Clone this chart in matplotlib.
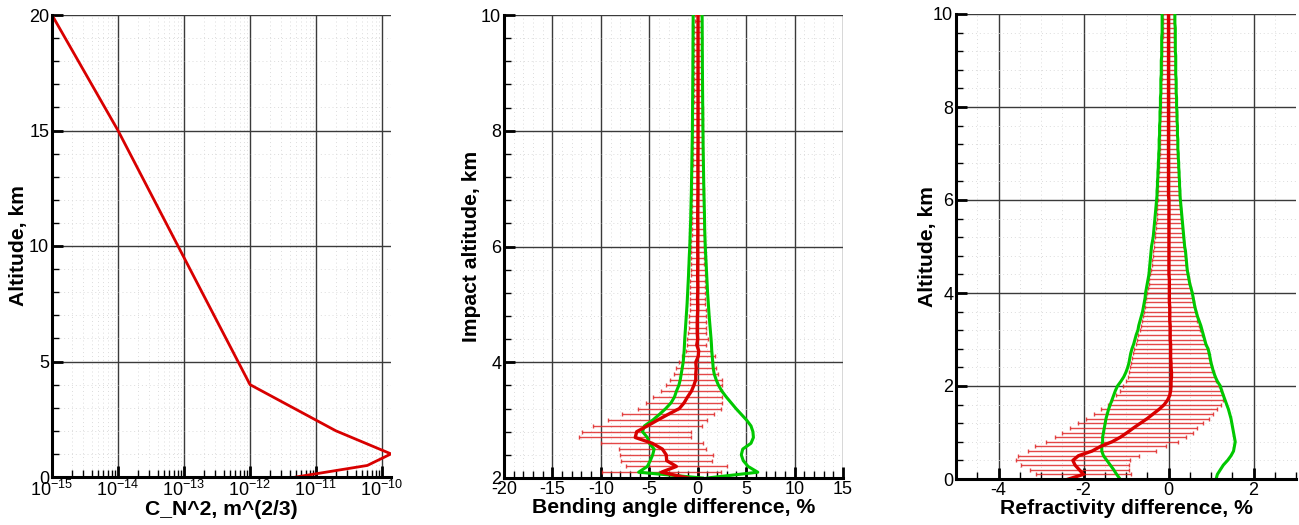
import matplotlib
matplotlib.use("Agg")
import matplotlib.pyplot as plt
from matplotlib.ticker import MultipleLocator, LogLocator, NullFormatter
import numpy as np

plt.rcParams['font.family'] = 'Liberation Sans'
plt.rcParams['mathtext.fontset'] = 'custom'
plt.rcParams['mathtext.rm'] = 'Liberation Sans'
plt.rcParams['mathtext.it'] = 'Liberation Sans:italic'
plt.rcParams['mathtext.bf'] = 'Liberation Sans:bold'
plt.rcParams['axes.unicode_minus'] = False

# ---- panel 1: Cn2 profile
cn2_vals = [1e-15, 1e-14, 1e-12, 2e-11, 1.37e-10, 6e-11, 5e-12]
cn2_alt = [20, 15, 4, 2, 1, 0.5, 0]

# ---- panel 2: bending angle difference (every 0.1 km, 2..10 km)
ba_alt = np.round(np.arange(2.0, 10.01, 0.1), 1)
ba_mean = [-1.0, -3.75, -2.2, -3.2, -3.25, -3.65, -4.7, -6.45, -6.3, -5.2,
           -4.15, -3.05, -1.9, -1.4, -1.05, -0.65, -0.4, -0.2, -0.2, -0.15,
           -0.2, 0.05, 0.1, -0.1, 0.0, -0.05, -0.05, -0.05, -0.03, 0.0,
           0.0, -0.02, 0.0, 0.01, 0.0, -0.01, 0.0, 0.0, 0.01, 0.0,
           0.0, 0.0, 0.01, 0.01, 0.0, 0.0, 0.0, 0.01, 0.01, 0.02,
           0.02, 0.02, 0.02, 0.02, 0.02, 0.02, 0.02, 0.03, 0.03, 0.03,
           0.03, 0.03, 0.03, 0.03, 0.03, 0.03, 0.03, 0.03, 0.03, 0.03,
           0.03, 0.03, 0.03, 0.03, 0.03, 0.03, 0.03, 0.03, 0.03, 0.03, 0.03]
ba_std = [6.0, 6.15, 5.2, 4.7, 4.8, 4.5, 5.25, 5.8, 5.65, 5.6,
          5.1, 4.75, 4.3, 3.9, 3.55, 3.15, 2.9, 2.7, 2.3, 2.05,
          1.75, 1.7, 1.3, 1.0, 1.08, 0.95, 0.9, 0.87, 0.85, 0.83,
          0.8, 0.79, 0.78, 0.76, 0.75, 0.73, 0.72, 0.7, 0.69, 0.68,
          0.66, 0.65, 0.65, 0.64, 0.63, 0.62, 0.62, 0.61, 0.6, 0.59,
          0.58, 0.57, 0.57, 0.56, 0.55, 0.54, 0.54, 0.53, 0.52, 0.51,
          0.5, 0.49, 0.48, 0.48, 0.47, 0.46, 0.45, 0.44, 0.44, 0.43,
          0.42, 0.41, 0.41, 0.4, 0.39, 0.39, 0.38, 0.38, 0.37, 0.36, 0.36]
ba_lo = [0.5, -6.1, -5.2, -4.9, -4.65, -4.5, -5.0, -5.2, -5.7, -5.5,
         -4.65, -3.95, -3.3, -2.75, -2.4, -2.2, -1.95, -1.8, -1.7, -1.6,
         -1.5, -1.45, -1.4, -1.37, -1.34, -1.3, -1.26, -1.22, -1.18, -1.14,
         -1.1, -1.07, -1.04, -1.01, -0.98, -0.95, -0.93, -0.9, -0.88, -0.85,
         -0.82, -0.8, -0.78, -0.76, -0.74, -0.72, -0.71, -0.69, -0.68, -0.66,
         -0.65, -0.64, -0.63, -0.62, -0.61, -0.6, -0.59, -0.58, -0.57, -0.56,
         -0.55, -0.55, -0.54, -0.54, -0.53, -0.53, -0.52, -0.52, -0.51, -0.51,
         -0.5, -0.5, -0.5, -0.49, -0.49, -0.49, -0.48, -0.48, -0.48, -0.47, -0.47]
ba_hi = [1.0, 6.2, 5.2, 4.7, 4.5, 4.65, 5.5, 5.75, 5.7, 5.5,
         5.05, 4.5, 3.95, 3.45, 2.95, 2.5, 2.15, 1.9, 1.7, 1.6,
         1.55, 1.5, 1.45, 1.42, 1.38, 1.33, 1.28, 1.23, 1.18, 1.14,
         1.1, 1.06, 1.02, 0.99, 0.96, 0.93, 0.9, 0.87, 0.84, 0.81,
         0.78, 0.76, 0.74, 0.72, 0.71, 0.7, 0.69, 0.67, 0.66, 0.64,
         0.63, 0.62, 0.61, 0.6, 0.59, 0.58, 0.57, 0.56, 0.55, 0.55,
         0.54, 0.53, 0.53, 0.52, 0.52, 0.51, 0.51, 0.5, 0.5, 0.49,
         0.49, 0.48, 0.48, 0.48, 0.47, 0.47, 0.47, 0.46, 0.46, 0.46, 0.45]

# ---- panel 3: refractivity difference (every 0.1 km, 0..10 km)
rf_alt = np.round(np.arange(0.0, 10.01, 0.1), 1)
rf_mean = [-2.35, -2.0, -2.1, -2.2, -2.25, -2.12, -1.8, -1.6, -1.33, -1.13,
           -0.97, -0.82, -0.66, -0.5, -0.36, -0.22, -0.1, -0.02, 0.03, 0.05,
           0.06, 0.06, 0.07, 0.07, 0.06, 0.06, 0.05, 0.05, 0.05, 0.05,
           0.04, 0.04, 0.04, 0.04, 0.03, 0.03, 0.03, 0.03, 0.02, 0.02,
           0.02, 0.02, 0.02, 0.02, 0.01, 0.01, 0.01, 0.01, 0.01, 0.01,
           0.01, 0.01, 0.01, 0.01, 0.01, 0.01, 0.01, 0.01, 0.01, 0.01,
           0.01, 0.0, 0.0, 0.0, 0.0, 0.0, 0.0, 0.0, 0.0, 0.0,
           0.0, 0.0, 0.0, 0.0, 0.0, 0.0, 0.0, 0.0, 0.0, 0.0,
           0.0, 0.0, 0.0, 0.0, 0.0, 0.0, 0.0, 0.0, 0.0, 0.0,
           0.0, 0.0, 0.0, 0.0, 0.0, 0.0, 0.0, 0.0, 0.0, 0.0, 0.0]
rf_std = [1.1, 1.12, 1.17, 1.26, 1.35, 1.42, 1.5, 1.53, 1.56, 1.55,
          1.54, 1.49, 1.47, 1.45, 1.4, 1.36, 1.33, 1.31, 1.26, 1.2,
          1.12, 1.05, 1.02, 1.0, 0.96, 0.94, 0.91, 0.89, 0.87, 0.82,
          0.79, 0.75, 0.71, 0.68, 0.65, 0.63, 0.61, 0.59, 0.57, 0.55,
          0.53, 0.51, 0.49, 0.47, 0.44, 0.42, 0.41, 0.39, 0.38, 0.37,
          0.36, 0.35, 0.33, 0.32, 0.31, 0.3, 0.29, 0.29, 0.28, 0.27,
          0.26, 0.26, 0.25, 0.25, 0.24, 0.24, 0.23, 0.23, 0.22, 0.22,
          0.21, 0.21, 0.21, 0.2, 0.2, 0.2, 0.19, 0.19, 0.19, 0.18,
          0.18, 0.18, 0.17, 0.17, 0.17, 0.17, 0.16, 0.16, 0.16, 0.16,
          0.15, 0.15, 0.15, 0.15, 0.15, 0.14, 0.14, 0.14, 0.14, 0.14, 0.14]
rf_lo = [-1.14, -1.22, -1.29, -1.37, -1.45, -1.53, -1.57, -1.57, -1.55, -1.55,
         -1.53, -1.51, -1.49, -1.47, -1.44, -1.41, -1.37, -1.33, -1.29, -1.25,
         -1.2, -1.12, -1.05, -1.0, -0.96, -0.93, -0.91, -0.89, -0.86, -0.82,
         -0.79, -0.76, -0.72, -0.7, -0.67, -0.64, -0.61, -0.59, -0.57, -0.55,
         -0.54, -0.52, -0.5, -0.48, -0.46, -0.45, -0.44, -0.43, -0.42, -0.41,
         -0.4, -0.38, -0.36, -0.35, -0.34, -0.33, -0.32, -0.31, -0.3, -0.29,
         -0.28, -0.27, -0.27, -0.26, -0.26, -0.25, -0.25, -0.24, -0.24, -0.23,
         -0.23, -0.22, -0.22, -0.22, -0.21, -0.21, -0.21, -0.2, -0.2, -0.2,
         -0.19, -0.19, -0.19, -0.18, -0.18, -0.18, -0.18, -0.17, -0.17, -0.17,
         -0.17, -0.16, -0.16, -0.16, -0.16, -0.16, -0.15, -0.15, -0.15, -0.15, -0.15]
rf_hi = [1.12, 1.15, 1.22, 1.29, 1.39, 1.47, 1.53, 1.55, 1.57, 1.55,
         1.53, 1.51, 1.49, 1.47, 1.44, 1.41, 1.37, 1.33, 1.29, 1.25,
         1.22, 1.15, 1.1, 1.06, 1.03, 1.0, 0.98, 0.96, 0.93, 0.88,
         0.85, 0.82, 0.79, 0.76, 0.72, 0.68, 0.65, 0.62, 0.6, 0.58,
         0.56, 0.53, 0.5, 0.48, 0.46, 0.44, 0.43, 0.42, 0.41, 0.4,
         0.38, 0.37, 0.36, 0.35, 0.34, 0.33, 0.32, 0.31, 0.3, 0.29,
         0.28, 0.27, 0.27, 0.26, 0.26, 0.25, 0.25, 0.24, 0.24, 0.23,
         0.23, 0.22, 0.22, 0.22, 0.21, 0.21, 0.21, 0.2, 0.2, 0.2,
         0.19, 0.19, 0.19, 0.18, 0.18, 0.18, 0.18, 0.17, 0.17, 0.17,
         0.17, 0.17, 0.16, 0.16, 0.16, 0.16, 0.16, 0.16, 0.15, 0.15, 0.15]

RED = '#d80000'
BAR = '#e02828'
GREEN = '#00c800'
tick_fs = 13
label_fs = 15.2


def style(ax):
    for s in ['top', 'right']:
        ax.spines[s].set_visible(False)
    for s in ['left', 'bottom']:
        ax.spines[s].set_linewidth(2.2)
        ax.spines[s].set_zorder(5)
    ax.tick_params(which='major', direction='in', length=8, width=2,
                   labelsize=tick_fs, pad=2)
    ax.tick_params(which='minor', direction='in', length=5, width=1)
    ax.tick_params(top=False, right=False)
    ax.grid(which='major', color='#3a3a3a', lw=1.0, ls='-', zorder=0)
    ax.grid(which='minor', color='#dcdcdc', lw=0.7, ls=(0, (1, 3)), zorder=0)
    ax.set_axisbelow(True)


fig = plt.figure(figsize=(12.99, 5.25), dpi=100)
W, H = 1299.0, 525.0
ax1 = fig.add_axes([52 / W, 1 - 477 / H, (391 - 52) / W, (477 - 15) / H])
ax2 = fig.add_axes([504 / W, 1 - 478 / H, (843 - 504) / W, (478 - 15) / H])
ax3 = fig.add_axes([956 / W, 1 - 479 / H, (1296 - 956) / W, (479 - 14) / H])

# panel 1
ax1.plot(cn2_vals, cn2_alt, color=RED, lw=2, zorder=3)
ax1.set_xscale('log')
ax1.set_xlim(1e-15, 1.37e-10)
ax1.set_ylim(0, 20)
ax1.xaxis.set_major_locator(LogLocator(base=10, numticks=20))
ax1.xaxis.set_minor_locator(LogLocator(base=10, subs=np.arange(2, 10), numticks=20))
ax1.xaxis.set_minor_formatter(NullFormatter())
ax1.yaxis.set_major_locator(MultipleLocator(5))
ax1.yaxis.set_minor_locator(MultipleLocator(1))
style(ax1)
ax1.set_xlabel('C_N^2, m^(2/3)', fontsize=label_fs, fontweight='bold', labelpad=0)
ax1.set_ylabel('Altitude, km', fontsize=label_fs, fontweight='bold', labelpad=1)

# panel 2
m2 = np.array(ba_mean)
s2 = np.array(ba_std)
ax2.errorbar(m2[1:], ba_alt[1:], xerr=s2[1:], fmt='none', ecolor=BAR,
             elinewidth=1.0, capsize=1.5, capthick=1.0, alpha=0.85, zorder=2)
ax2.plot(ba_lo, ba_alt, color=GREEN, lw=2.2, zorder=3)
ax2.plot(ba_hi, ba_alt, color=GREEN, lw=2.2, zorder=3)
ax2.plot(m2, ba_alt, color=RED, lw=2.4, zorder=4)
ax2.set_xlim(-20, 15)
ax2.set_ylim(2, 10)
ax2.xaxis.set_major_locator(MultipleLocator(5))
ax2.xaxis.set_minor_locator(MultipleLocator(1))
ax2.yaxis.set_major_locator(MultipleLocator(2))
ax2.yaxis.set_minor_locator(MultipleLocator(0.4))
style(ax2)
ax2.set_xlabel('Bending angle difference, %', fontsize=label_fs, fontweight='bold', labelpad=0)
ax2.set_ylabel('Impact altitude, km', fontsize=label_fs, fontweight='bold', labelpad=0)

# panel 3
m3 = np.array(rf_mean)
s3 = np.array(rf_std)
ax3.errorbar(m3[1:], rf_alt[1:], xerr=s3[1:], fmt='none', ecolor=BAR,
             elinewidth=1.0, capsize=1.5, capthick=1.0, alpha=0.85, zorder=2)
ax3.plot(rf_lo, rf_alt, color=GREEN, lw=2.2, zorder=3)
ax3.plot(rf_hi, rf_alt, color=GREEN, lw=2.2, zorder=3)
ax3.plot(m3, rf_alt, color=RED, lw=2.4, zorder=4)
ax3.set_xlim(-5, 3)
ax3.set_ylim(0, 10)
ax3.set_xticks([-4, -2, 0, 2])
ax3.xaxis.set_minor_locator(MultipleLocator(0.5))
ax3.yaxis.set_major_locator(MultipleLocator(2))
ax3.yaxis.set_minor_locator(MultipleLocator(0.4))
style(ax3)
ax3.set_xlabel('Refractivity difference, %', fontsize=label_fs, fontweight='bold', labelpad=0)
ax3.set_ylabel('Altitude, km', fontsize=label_fs, fontweight='bold', labelpad=-3)

fig.savefig('out.png', dpi=100)
